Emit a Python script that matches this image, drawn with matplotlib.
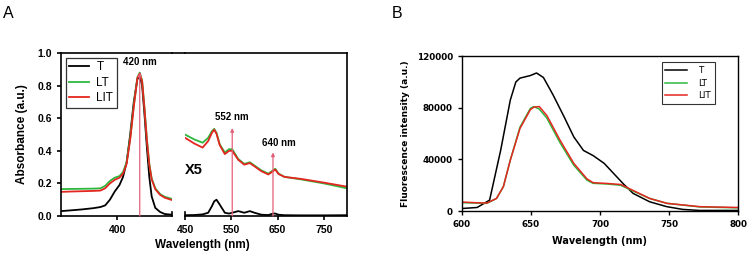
import matplotlib
matplotlib.use("Agg")
from matplotlib import pyplot as plt
from matplotlib.lines import Line2D

# ---- Panel A, left segment (Soret band) ----
a_wl_left = [353, 360, 370, 380, 386, 390, 394, 398, 402, 405, 408, 411, 414, 417, 419,
             421, 423, 425, 427, 429, 432, 436, 440, 446]
a_T_left = [0.030, 0.034, 0.040, 0.048, 0.055, 0.065, 0.100, 0.150, 0.190, 0.240, 0.330, 0.500,
            0.700, 0.840, 0.860, 0.800, 0.620, 0.420, 0.240, 0.120, 0.050, 0.025, 0.012, 0.008]
a_LT_left = [0.165, 0.166, 0.167, 0.168, 0.170, 0.185, 0.215, 0.235, 0.245, 0.270, 0.330, 0.480,
             0.680, 0.850, 0.880, 0.830, 0.660, 0.470, 0.320, 0.230, 0.170, 0.135, 0.118, 0.105]
a_LIT_left = [0.148, 0.150, 0.152, 0.154, 0.156, 0.170, 0.200, 0.222, 0.235, 0.260, 0.320, 0.470,
              0.670, 0.845, 0.875, 0.825, 0.655, 0.465, 0.315, 0.225, 0.165, 0.130, 0.112, 0.098]

# ---- Panel A, right segment (Q bands, x5) ----
a_wl_right = [450, 470, 488, 500, 508, 513, 518, 525, 536, 545, 552, 565, 578, 590, 600,
              615, 630, 640, 645, 652, 665, 700, 750, 800]
a_T_right = [0.005, 0.006, 0.010, 0.020, 0.060, 0.090, 0.100, 0.070, 0.020, 0.015, 0.020,
             0.030, 0.020, 0.030, 0.020, 0.008, 0.006, 0.015, 0.015, 0.008, 0.005, 0.004, 0.004, 0.005]
a_LT_right = [0.500, 0.470, 0.450, 0.480, 0.520, 0.535, 0.510, 0.440, 0.390, 0.410, 0.410,
              0.350, 0.320, 0.330, 0.310, 0.280, 0.260, 0.280, 0.290, 0.260, 0.240, 0.225, 0.200, 0.170]
a_LIT_right = [0.480, 0.445, 0.420, 0.460, 0.510, 0.530, 0.505, 0.435, 0.380, 0.400, 0.400,
               0.345, 0.315, 0.325, 0.305, 0.275, 0.255, 0.275, 0.285, 0.258, 0.240, 0.228, 0.205, 0.180]

a_peaks_left = [419]
a_peak_left_tops = [0.88]
a_peaks_right = [552, 640]
a_peak_right_tops = [0.54, 0.39]
a_peak_labels = ["420 nm", "552 nm", "640 nm"]

# ---- Panel B, fluorescence ----
b_wl_T = [600, 611, 620, 628, 635, 639, 642, 649.5, 654, 659, 666, 674, 681, 688, 695, 703,
          710, 717, 724, 736, 748.5, 760, 772, 800]
b_T = [2000, 2800, 8500, 47000, 86000, 100000, 103000, 105000, 107000, 103500, 90000, 73000,
       57500, 47000, 43000, 37000, 29000, 21000, 13700, 7200, 3400, 1300, 500, 500]
b_wl_L = [600, 610, 618, 625, 630, 635, 642, 649.5, 652, 656, 661.5, 671, 681, 690.5, 695,
          705, 715, 724, 736, 748.5, 772.5, 800]
b_LT = [6500, 6200, 6000, 9800, 19000, 39500, 65000, 79500, 81000, 79000, 72000, 53000,
        35500, 24000, 21500, 21000, 20000, 15500, 9800, 6000, 3200, 2500]
b_LIT = [7000, 6500, 6200, 9800, 19000, 39500, 64000, 78500, 80500, 81000, 74000, 55000,
         37000, 25000, 22000, 21400, 20600, 16000, 9800, 6000, 3400, 2800]

labels = ["T", "LT", "LIT"]
colors = ["black", "#2db83d", "#e3261f"]
marker_color = "#e4607a"

plt.rcParams['font.family'] = ['Liberation Sans', 'DejaVu Sans']
fig = plt.figure(figsize=(7.5, 2.59), dpi=100)

# Panel A axes (broken x axis)
axl = fig.add_axes([0.0813, 0.166, 0.148, 0.629])
axr = fig.add_axes([0.2467, 0.166, 0.216, 0.629])

for y, c, lab in zip([a_T_left, a_LT_left, a_LIT_left], colors, labels):
    axl.plot(a_wl_left, y, color=c, lw=1.3, label=lab)
for y, c in zip([a_T_right, a_LT_right, a_LIT_right], colors):
    axr.plot(a_wl_right, y, color=c, lw=1.3)

axl.set_xlim(353, 446)
axr.set_xlim(450, 800)
for ax in (axl, axr):
    ax.set_ylim(0, 1.0)
    for s in ax.spines.values():
        s.set_linewidth(1.2)
    ax.tick_params(direction='out', width=1.2, length=3, labelsize=7.5)

axl.set_xticks([400])
axl.set_yticks([0, 0.2, 0.4, 0.6, 0.8, 1.0])
axl.set_yticklabels(["0.0", "0.2", "0.4", "0.6", "0.8", "1.0"], fontweight='bold')
axl.set_xticklabels(["400"], fontweight='bold')
axl.spines['right'].set_visible(False)
axr.spines['left'].set_visible(False)
axr.set_yticks([])
axr.set_xticks([450, 550, 650, 750])
axr.set_xticklabels(["450", "550", "650", "750"], fontweight='bold')

# break marks on the bottom axis
axl.plot([1, 1], [0, 0.025], transform=axl.transAxes, color='black', lw=1.2, clip_on=False)
axr.plot([0, 0], [0, 0.025], transform=axr.transAxes, color='black', lw=1.2, clip_on=False)
# continuous top frame across the break
fig.add_artist(Line2D([0.0813 + 0.148, 0.2467], [0.795, 0.795], color='black', lw=1.2))

# peak markers
for x, top in zip(a_peaks_left, a_peak_left_tops):
    axl.annotate("", xy=(x, top), xytext=(x, 0),
                 arrowprops=dict(arrowstyle='-|>', color=marker_color, lw=0.9,
                                 mutation_scale=5, shrinkA=0, shrinkB=0))
for x, top in zip(a_peaks_right, a_peak_right_tops):
    axr.annotate("", xy=(x, top), xytext=(x, 0),
                 arrowprops=dict(arrowstyle='-|>', color=marker_color, lw=0.9,
                                 mutation_scale=5, shrinkA=0, shrinkB=0))
axl.text(a_peaks_left[0], 0.915, a_peak_labels[0], ha='center', va='bottom',
         fontsize=7, fontweight='bold')
axr.text(a_peaks_right[0], 0.58, a_peak_labels[1], ha='center', va='bottom',
         fontsize=7, fontweight='bold')
axr.text(a_peaks_right[1] + 12, 0.42, a_peak_labels[2], ha='center', va='bottom',
         fontsize=7, fontweight='bold')
axr.text(468, 0.28, "X5", ha='center', va='center', fontsize=10.5, fontweight='bold')

axl.set_ylabel("Absorbance (a.u.)", fontsize=8.5, fontweight='bold', labelpad=7)
fig.text(0.27, 0.055, "Wavelength (nm)", ha='center', va='center', fontsize=8.5,
         fontweight='bold')
leg = axl.legend(loc='upper left', fontsize=8.5, frameon=True, fancybox=False,
                 edgecolor='black', handlelength=1.7, borderpad=0.3, labelspacing=0.3,
                 handletextpad=0.6, borderaxespad=0.4)
leg.get_frame().set_linewidth(0.9)

fig.text(0.004, 0.975, "A", fontsize=11.5, ha='left', va='top')

# Panel B
bfont = 'DejaVu Sans'
axb = fig.add_axes([0.616, 0.185, 0.368, 0.598])
axb.plot(b_wl_T, b_T, color=colors[0], lw=1.1, label=labels[0])
axb.plot(b_wl_L, b_LT, color=colors[1], lw=1.1, label=labels[1])
axb.plot(b_wl_L, b_LIT, color=colors[2], lw=1.1, label=labels[2])
axb.set_xlim(600, 800)
axb.set_ylim(0, 120000)
axb.set_xticks([600, 650, 700, 750, 800])
axb.set_yticks([0, 40000, 80000, 120000])
axb.set_xticklabels(["600", "650", "700", "750", "800"], fontweight='bold', family=bfont)
axb.set_yticklabels(["0", "40000", "80000", "120000"], fontweight='bold', family=bfont)
axb.tick_params(direction='out', width=1.0, length=3, labelsize=6.3)
for s in axb.spines.values():
    s.set_linewidth(1.0)
axb.set_xlabel("Wavelength (nm)", fontsize=7, fontweight='bold', family=bfont, labelpad=5)
axb.set_ylabel("Fluorescence intensity (a.u.)", fontsize=6.5, fontweight='bold',
               family=bfont, labelpad=5)
legb = axb.legend(loc='upper right', bbox_to_anchor=(0.915, 0.96),
                  prop={'family': bfont, 'size': 6.3}, frameon=True, fancybox=False,
                  edgecolor='black', handlelength=2.5, borderpad=0.45, labelspacing=0.4,
                  handletextpad=1.2, borderaxespad=0)
legb.get_frame().set_linewidth(0.8)

fig.text(0.522, 0.975, "B", fontsize=11.5, ha='left', va='top')

fig.savefig("out.png", dpi=100)
